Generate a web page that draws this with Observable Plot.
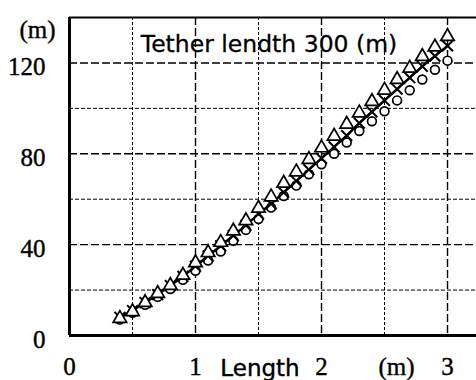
<!DOCTYPE html>
<html>
<head>
<meta charset="utf-8">
<script src="https://cdn.jsdelivr.net/npm/d3@7"></script>
<script src="https://cdn.jsdelivr.net/npm/@observablehq/plot@0.6"></script>
<style>
  html, body { margin: 0; padding: 0; background: #fff; }
  svg { display: block; }
</style>
</head>
<body>
<div id="chart"></div>
<script>
// Horizontal length (m) at which each sample was taken
const lengths = [0.4, 0.5, 0.6, 0.7, 0.8, 0.9, 1.0, 1.1, 1.2, 1.3, 1.4, 1.5, 1.6, 1.7,
                 1.8, 1.9, 2.0, 2.1, 2.2, 2.3, 2.4, 2.5, 2.6, 2.7, 2.8, 2.9, 3.0];

// Three measured series (m)
const triangleSeries = [7.5, 10.5, 14.5, 18.5, 22, 26.5, 32, 36.5, 41, 46, 50.5, 56, 61, 67,
                        72, 77.5, 82.6, 87.7, 93, 98, 103, 108, 112.7, 117.7, 122.8, 127, 131.6];
const crossSeries    = [8, 11, 14.5, 18, 22, 26, 30.5, 35, 39.5, 44, 48.5, 53.5, 58, 63,
                        68, 73, 78, 83, 88, 93.5, 98.5, 103.5, 108.5, 113.5, 118.5, 123, 127.5];
const circleSeries   = [7, 10, 13.5, 17, 20.5, 24.5, 28.5, 33, 37, 41.7, 46.5, 51.3, 56.3, 61.4,
                        66, 71, 75.4, 80, 85, 90, 94.3, 98.7, 103.5, 108, 112.7, 117, 121];

// Axis ticks and grid
const xTickLabels = [0, 1, 2, 3];
const yTickLabels = [0, 40, 80, 120];
const xGridWhole = [1, 2, 3];
const xGridHalf = [0.5, 1.5, 2.5];
const yGridMajor = [40, 80, 120];
const yGridMinor = [20, 60, 100];

const titleText = "Tether lendth 300 (m)";
const xLabelText = "Length";
const unitText = "(m)";

const rows = lengths.map((x, i) => ({
  x,
  tri: triangleSeries[i],
  cross: crossSeries[i],
  circle: circleSeries[i]
}));

const serif = "Liberation Serif, Times New Roman, serif";
const sans = "DejaVu Sans, sans-serif";
// printed labels are slightly heavy; a hairline outline thickens the glyphs
const ink = { fill: "#000", stroke: "#000", strokeWidth: 0.4 };

const chart = Plot.plot({
  width: 476,
  height: 380,
  marginLeft: 69,
  marginRight: 0,
  marginTop: 17,
  marginBottom: 45,
  style: { background: "#fff", overflow: "visible" },
  x: { domain: [0, 3.23], axis: null },
  y: { domain: [0, 140], axis: null },
  marks: [
    // grid
    Plot.ruleY(yGridMinor, { stroke: "#000", strokeWidth: 1, strokeDasharray: "4,2" }),
    Plot.ruleY(yGridMajor, { stroke: "#000", strokeWidth: 1.4, strokeDasharray: "8,3" }),
    Plot.ruleX(xGridHalf, { stroke: "#000", strokeWidth: 1, strokeDasharray: "3,2" }),
    Plot.ruleX(xGridWhole, { stroke: "#000", strokeWidth: 1.4, strokeDasharray: "8,3" }),
    // frame lines
    Plot.ruleY([140], { stroke: "#000", strokeWidth: 2 }),
    Plot.ruleX([0], { stroke: "#000", strokeWidth: 3 }),
    Plot.ruleY([0], { stroke: "#000", strokeWidth: 3 }),
    // data
    Plot.line(rows, { x: "x", y: "cross", stroke: "#000", strokeWidth: 2.4 }),
    Plot.dot(rows, { x: "x", y: "circle", r: 4.4, fill: "#fff", stroke: "#000", strokeWidth: 1.7 }),
    Plot.dot(rows, { x: "x", y: "cross", symbol: "times", r: 5, stroke: "#000", strokeWidth: 2 }),
    Plot.dot(rows, { x: "x", y: "tri", symbol: "triangle", r: 5, fill: "#fff", stroke: "#000", strokeWidth: 1.7 }),
    // tick labels
    Plot.text(yTickLabels, {
      y: d => d, text: d => String(d), frameAnchor: "left", dx: -24, dy: 4,
      textAnchor: "end", lineAnchor: "middle", fontSize: 25, fontFamily: serif, ...ink
    }),
    Plot.text(xTickLabels, {
      x: d => d, text: d => String(d), frameAnchor: "bottom", dy: 31,
      textAnchor: "middle", lineAnchor: "middle", fontSize: 25, fontFamily: serif, ...ink
    }),
    // axis titles
    Plot.text([unitText], {
      text: d => d, frameAnchor: "top-left", dx: -32, dy: 12,
      textAnchor: "middle", lineAnchor: "middle", fontSize: 25, fontFamily: serif, ...ink
    }),
    Plot.text([unitText], {
      text: d => d, frameAnchor: "bottom-right", dx: -80, dy: 31,
      textAnchor: "middle", lineAnchor: "middle", fontSize: 25, fontFamily: serif, ...ink
    }),
    Plot.text([xLabelText], {
      text: d => d, frameAnchor: "bottom-left", dx: 190.5, dy: 33,
      textAnchor: "middle", lineAnchor: "middle", fontSize: 23, fontFamily: sans, ...ink
    }),
    Plot.text([titleText], {
      text: d => d, frameAnchor: "top-left", dx: 199.5, dy: 27,
      textAnchor: "middle", lineAnchor: "middle", fontSize: 23.5, fontFamily: sans, ...ink, strokeWidth: 0.3
    })
  ]
});

document.getElementById("chart").appendChild(chart);
</script>
</body>
</html>
